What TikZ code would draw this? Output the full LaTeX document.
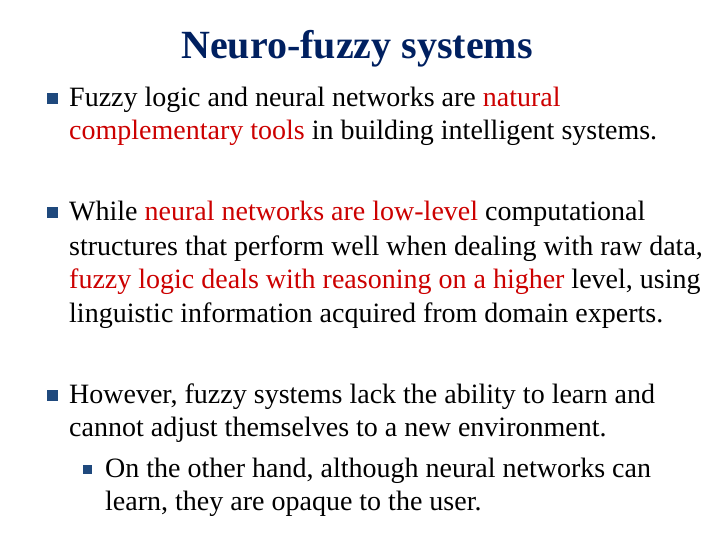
\documentclass[tikz,border=0pt]{standalone}
\usepackage{fontspec}
\setmainfont{Liberation Serif}
\definecolor{navy}{RGB}{0,32,96}
\definecolor{hl}{RGB}{204,0,0}
\definecolor{bulc}{RGB}{31,73,125}
\begin{document}
\begin{tikzpicture}[x=1pt,y=-1pt,
  ln/.style={anchor=base west,inner sep=0pt,font=\fontsize{28}{33}\selectfont},
  bul/.style={fill=bulc,minimum size=11pt,inner sep=0pt}]
\useasboundingbox (0,0) rectangle (720,540);
\node[anchor=base,inner sep=0pt,font=\bfseries\fontsize{40}{46}\selectfont,text=navy] (title) at (357,59) {Neuro-fuzzy systems};
\node[bul] (b1) at (52,99) {};
\node[ln] (l1) at (69,107) {Fuzzy logic and neural networks are \textcolor{hl}{natural}};
\node[ln] (l2) at (69,140) {\textcolor{hl}{complementary tools} in building intelligent systems.};
\node[bul] (b2) at (52,213) {};
\node[ln] (l3) at (69,221) {While \textcolor{hl}{neural networks are low-level} computational};
\node[ln] (l4) at (69,255) {structures that perform well when dealing with raw data,};
\node[ln] (l5) at (69,288) {\textcolor{hl}{fuzzy logic deals with reasoning on a higher} level, using};
\node[ln] (l6) at (69,322) {linguistic information acquired from domain experts.};
\node[bul] (b3) at (52,395) {};
\node[ln] (l7) at (69,403) {However, fuzzy systems lack the ability to learn and};
\node[ln] (l8) at (69,436) {cannot adjust themselves to a new environment.};
\node[bul,minimum size=9pt] (b4) at (87,469) {};
\node[ln] (l9) at (105,477) {On the other hand, although neural networks can};
\node[ln] (l10) at (105,510) {learn, they are opaque to the user.};
\end{tikzpicture}
\end{document}
